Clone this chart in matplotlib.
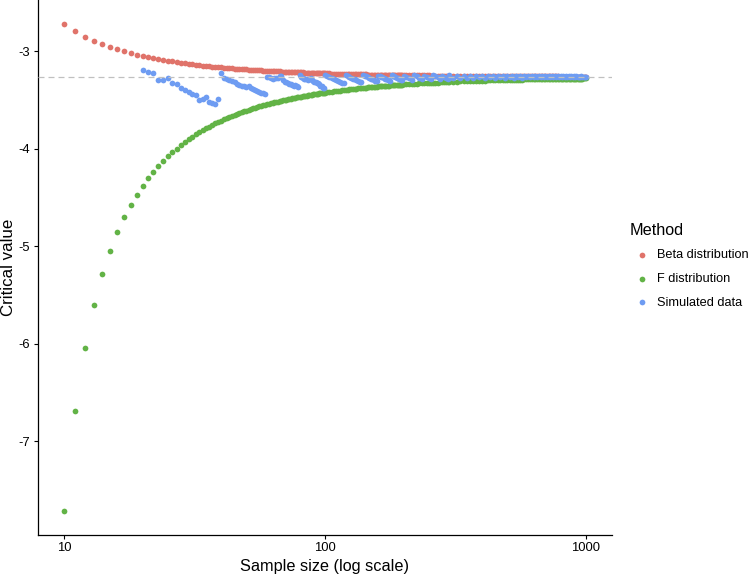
import matplotlib
matplotlib.use("Agg")
import matplotlib.pyplot as plt

plt.rcParams['font.family'] = ['Liberation Sans', 'DejaVu Sans']

# sample sizes (x) shared by the two analytic curves
sample_size = (list(range(10, 101)) + list(range(102, 201, 2))
               + list(range(205, 301, 5)) + list(range(310, 1001, 10)))

beta_values = [
    -2.723, -2.794, -2.848, -2.891, -2.926, -2.955, -2.979, -3.000, -3.018, -3.033,
    -3.047, -3.059, -3.070, -3.080, -3.089, -3.097, -3.104, -3.111, -3.117, -3.123,
    -3.128, -3.133, -3.137, -3.142, -3.146, -3.149, -3.153, -3.156, -3.159, -3.162,
    -3.165, -3.167, -3.170, -3.172, -3.174, -3.177, -3.179, -3.181, -3.182, -3.184,
    -3.186, -3.187, -3.189, -3.190, -3.192, -3.193, -3.195, -3.196, -3.197, -3.198,
    -3.199, -3.201, -3.202, -3.203, -3.204, -3.205, -3.206, -3.206, -3.207, -3.208,
    -3.209, -3.210, -3.211, -3.211, -3.212, -3.213, -3.213, -3.214, -3.215, -3.215,
    -3.216, -3.217, -3.217, -3.218, -3.218, -3.219, -3.219, -3.220, -3.220, -3.221,
    -3.221, -3.222, -3.222, -3.223, -3.223, -3.224, -3.224, -3.225, -3.225, -3.225,
    -3.226,
    -3.227, -3.227, -3.228, -3.229, -3.229, -3.230, -3.230, -3.231, -3.232, -3.232,
    -3.233, -3.233, -3.234, -3.234, -3.235, -3.235, -3.235, -3.236, -3.236, -3.237,
    -3.237, -3.237, -3.238, -3.238, -3.238, -3.239, -3.239, -3.239, -3.240, -3.240,
    -3.240, -3.241, -3.241, -3.241, -3.241, -3.242, -3.242, -3.242, -3.242, -3.243,
    -3.243, -3.243, -3.243, -3.244, -3.244, -3.244, -3.244, -3.244, -3.245, -3.245,
    -3.245, -3.246, -3.246, -3.246, -3.247, -3.247, -3.247, -3.248, -3.248, -3.248,
    -3.249, -3.249, -3.249, -3.250, -3.250, -3.250, -3.250, -3.250, -3.251, -3.251,
    -3.251, -3.252, -3.252, -3.252, -3.253, -3.253, -3.253, -3.253, -3.254, -3.254,
    -3.254, -3.254, -3.255, -3.255, -3.255, -3.255, -3.255, -3.255, -3.256, -3.256,
    -3.256, -3.256, -3.256, -3.256, -3.256, -3.257, -3.257, -3.257, -3.257, -3.257,
    -3.257, -3.257, -3.257, -3.257, -3.258, -3.258, -3.258, -3.258, -3.258, -3.258,
    -3.258, -3.258, -3.258, -3.258, -3.258, -3.258, -3.258, -3.258, -3.259, -3.259,
    -3.259, -3.259, -3.259, -3.259, -3.259, -3.259, -3.259, -3.259, -3.259, -3.259,
    -3.259, -3.259, -3.259, -3.259, -3.259, -3.259, -3.259, -3.259, -3.259, -3.259,
]

f_values = [
    -7.712, -6.685, -6.045, -5.605, -5.288, -5.045, -4.858, -4.704, -4.576, -4.471,
    -4.381, -4.303, -4.236, -4.177, -4.123, -4.077, -4.035, -3.997, -3.963, -3.932,
    -3.903, -3.877, -3.853, -3.830, -3.809, -3.790, -3.772, -3.755, -3.740, -3.725,
    -3.711, -3.698, -3.686, -3.674, -3.663, -3.653, -3.643, -3.633, -3.625, -3.616,
    -3.608, -3.600, -3.593, -3.586, -3.579, -3.572, -3.566, -3.560, -3.554, -3.549,
    -3.543, -3.538, -3.533, -3.528, -3.524, -3.519, -3.515, -3.511, -3.507, -3.503,
    -3.499, -3.495, -3.492, -3.488, -3.485, -3.482, -3.479, -3.476, -3.473, -3.470,
    -3.467, -3.464, -3.461, -3.459, -3.456, -3.454, -3.451, -3.449, -3.447, -3.445,
    -3.442, -3.440, -3.438, -3.436, -3.434, -3.432, -3.430, -3.428, -3.427, -3.425,
    -3.423,
    -3.420, -3.417, -3.413, -3.410, -3.408, -3.405, -3.402, -3.400, -3.397, -3.395,
    -3.393, -3.390, -3.388, -3.386, -3.384, -3.382, -3.380, -3.379, -3.377, -3.375,
    -3.373, -3.372, -3.370, -3.369, -3.367, -3.366, -3.364, -3.363, -3.362, -3.360,
    -3.359, -3.358, -3.357, -3.356, -3.354, -3.353, -3.352, -3.351, -3.350, -3.349,
    -3.348, -3.347, -3.346, -3.345, -3.345, -3.344, -3.343, -3.342, -3.341, -3.340,
    -3.338, -3.337, -3.335, -3.333, -3.331, -3.330, -3.328, -3.327, -3.326, -3.324,
    -3.323, -3.322, -3.321, -3.320, -3.319, -3.318, -3.317, -3.316, -3.315, -3.314,
    -3.312, -3.311, -3.309, -3.308, -3.307, -3.305, -3.304, -3.303, -3.302, -3.301,
    -3.300, -3.299, -3.298, -3.298, -3.297, -3.296, -3.295, -3.295, -3.294, -3.293,
    -3.293, -3.292, -3.292, -3.291, -3.291, -3.290, -3.290, -3.289, -3.289, -3.288,
    -3.288, -3.287, -3.287, -3.287, -3.286, -3.286, -3.286, -3.285, -3.285, -3.285,
    -3.284, -3.284, -3.284, -3.283, -3.283, -3.283, -3.283, -3.282, -3.282, -3.282,
    -3.282, -3.281, -3.281, -3.281, -3.281, -3.281, -3.280, -3.280, -3.280, -3.280,
    -3.280, -3.279, -3.279, -3.279, -3.279, -3.279, -3.279, -3.278, -3.278, -3.278,
]

# simulated critical values start at n = 20
sim_sample_size = (list(range(20, 101)) + list(range(102, 201, 2))
                   + list(range(205, 301, 5)) + list(range(310, 1001, 10)))
sim_values = [
    -3.195, -3.208, -3.218, -3.290, -3.297, -3.277, -3.321, -3.338, -3.379, -3.400,
    -3.420, -3.434, -3.447, -3.495, -3.488, -3.468, -3.523, -3.530, -3.536, -3.485,
    -3.222, -3.270, -3.285, -3.295, -3.305, -3.318, -3.335, -3.345, -3.352, -3.360,
    -3.365, -3.352, -3.378, -3.390, -3.398, -3.405, -3.415, -3.425, -3.430, -3.440,
    -3.260, -3.262, -3.270, -3.283, -3.278, -3.275, -3.270, -3.255, -3.250, -3.290,
    -3.310, -3.318, -3.330, -3.340, -3.338, -3.345, -3.355, -3.350, -3.360, -3.365,
    -3.240, -3.265, -3.275, -3.280, -3.283, -3.285, -3.295, -3.280, -3.275, -3.290,
    -3.300, -3.310, -3.315, -3.325, -3.330, -3.340, -3.352, -3.360, -3.380, -3.375,
    -3.245,
    -3.255, -3.262, -3.270, -3.285, -3.295, -3.300, -3.310, -3.320, -3.330,
    -3.248, -3.255, -3.262, -3.270, -3.280, -3.288, -3.295, -3.300, -3.310, -3.315,
    -3.245, -3.252, -3.258, -3.265, -3.272, -3.280, -3.288, -3.295, -3.300, -3.305,
    -3.250, -3.255, -3.260, -3.268, -3.275, -3.280, -3.288, -3.292, -3.297, -3.300,
    -3.245, -3.250, -3.256, -3.262, -3.270, -3.275, -3.280, -3.285, -3.290, -3.295,
    -3.250,
    -3.260, -3.275, -3.290, -3.245, -3.255, -3.270, -3.285, -3.250, -3.260, -3.270,
    -3.285, -3.248, -3.258, -3.268, -3.280, -3.250, -3.260, -3.270, -3.280, -3.248,
    -3.272, -3.250, -3.275, -3.252, -3.270, -3.250, -3.272, -3.253, -3.268, -3.250,
    -3.270, -3.255, -3.268, -3.252, -3.270, -3.256, -3.267, -3.254, -3.270, -3.255,
    -3.268, -3.257, -3.270, -3.256, -3.268, -3.255, -3.269, -3.257, -3.267, -3.256,
    -3.268, -3.257, -3.266, -3.256, -3.268, -3.258, -3.267, -3.257, -3.266, -3.258,
    -3.267, -3.257, -3.266, -3.258, -3.267, -3.257, -3.266, -3.258, -3.266, -3.257,
    -3.266, -3.258, -3.267, -3.258, -3.265, -3.257, -3.266, -3.258, -3.265, -3.258,
    -3.266, -3.258, -3.265, -3.259, -3.266, -3.258, -3.265, -3.259, -3.265, -3.260,
]

reference_value = -3.263

methods = ["Beta distribution", "F distribution", "Simulated data"]
colors = ["#E0736A", "#62B346", "#6E9CF2"]

fig = plt.figure(figsize=(7.5, 5.75), dpi=100)
ax = fig.add_axes([38 / 750, 40 / 575, 574 / 750, 535 / 575])

series = [(sample_size, beta_values), (sample_size, f_values), (sim_sample_size, sim_values)]
handles = []
for (xs, ys), label, col in zip(series, methods, colors):
    h = ax.scatter(xs, ys, s=17, color=col, linewidths=0, label=label, zorder=2)
    handles.append(h)

ax.axhline(reference_value, color="#C0C0C0", lw=0.9, ls=(0, (4.8, 3.2)), zorder=3)

ax.set_xscale("log")
ax.set_xlim(10 ** 0.9, 10 ** 3.1)
all_y = beta_values + f_values + sim_values
lo, hi = min(all_y), max(all_y)
pad = (hi - lo) * 0.05
ax.set_ylim(lo - pad, hi + pad)

ax.set_xticks([10, 100, 1000])
ax.set_xticklabels(["10", "100", "1000"])
ax.xaxis.set_minor_locator(matplotlib.ticker.NullLocator())
ax.set_yticks([-7, -6, -5, -4, -3])
ax.set_yticklabels(["-7", "-6", "-5", "-4", "-3"])

for side in ["top", "right"]:
    ax.spines[side].set_visible(False)
for side in ["left", "bottom"]:
    ax.spines[side].set_linewidth(0.9)
ax.tick_params(axis="both", length=3, width=0.8, labelsize=9.4, colors="black")
ax.tick_params(axis="x", pad=2.2)
ax.tick_params(axis="y", pad=2.7)

ax.set_xlabel("Sample size (log scale)", fontsize=11.7, va="center")
ax.xaxis.set_label_coords(0.5, -0.0593)
ax.set_ylabel("Critical value", fontsize=12.2, va="center")
ax.yaxis.set_label_coords(-0.0517, 0.5)

leg = ax.legend(handles=handles, labels=methods, title="Method",
                loc="upper left", bbox_to_anchor=(630 / 750, 1 - 223 / 575),
                bbox_transform=fig.transFigure, frameon=False,
                fontsize=9.2, title_fontsize=11.7, alignment="left",
                handlelength=1.8, handletextpad=0.35, borderpad=0,
                labelspacing=0.9, borderaxespad=0)

fig.savefig("out.png", dpi=100)
